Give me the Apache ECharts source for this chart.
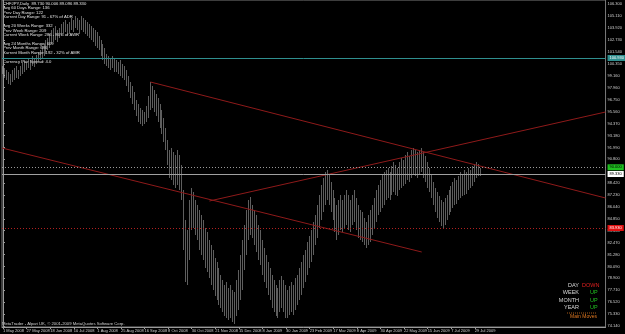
<!DOCTYPE html>
<html><head><meta charset="utf-8">
<script src="https://cdn.jsdelivr.net/npm/echarts@6/dist/echarts.min.js"></script>
<style>html,body{margin:0;padding:0;background:#000;}#c{width:625px;height:334px;}</style>
</head><body><div id="c"></div>
<script>
// x-axis date labels (one every 12 bars)
const dateLabels = ["1 May 2008","27 May 2008","18 Jun 2008","10 Jul 2008","1 Aug 2008","25 Aug 2008","16 Sep 2008","8 Oct 2008","30 Oct 2008","21 Nov 2008","15 Dec 2008","8 Jan 2009","30 Jan 2009","23 Feb 2009","17 Mar 2009","8 Apr 2009","30 Apr 2009","22 May 2009","15 Jun 2009","7 Jul 2009","29 Jul 2009"];
const barsPerLabel = 12;
const slotCount = 307;

// daily highs / lows (CHFJPY)
const highs = [100.13,99.93,99.73,99.53,99.33,99.73,99.93,100.13,99.73,100.13,
100.53,100.73,100.53,100.93,100.73,101.13,100.93,101.23,101.53,101.73,
102.13,102.33,102.73,102.93,103.33,103.73,103.93,104.13,103.73,103.93,
104.33,104.53,104.73,104.33,104.53,104.93,104.73,105.13,104.93,104.73,
105.13,104.93,104.73,104.53,104.33,104.13,103.93,103.73,103.53,103.13,
102.73,102.33,101.93,101.33,101.13,100.93,101.13,100.93,100.73,100.53,
100.73,100.33,100.13,99.73,99.13,98.53,98.13,97.53,96.73,96.33,
95.93,95.73,95.53,96.13,97.13,98.53,98.13,97.73,97.33,96.93,
96.33,95.73,94.93,93.93,92.73,91.73,91.93,91.53,91.23,91.73,
91.23,90.23,87.73,84.73,83.73,86.73,87.93,87.53,86.73,86.23,
85.73,85.23,84.73,83.93,83.53,82.73,82.23,81.73,80.93,80.53,
79.93,79.23,78.73,78.23,78.53,77.93,78.23,77.73,77.53,78.73,
79.73,81.23,82.73,84.23,85.73,86.73,87.03,86.23,85.73,85.23,
84.23,83.73,82.73,81.93,81.23,80.53,79.93,79.23,78.73,78.23,
77.93,78.73,79.13,78.73,78.23,77.73,78.13,78.53,78.23,78.93,
79.23,79.93,80.53,81.23,81.73,82.53,83.13,83.73,84.53,85.23,
86.23,87.23,88.23,88.93,89.53,89.73,89.23,88.53,87.73,86.93,
86.23,86.73,87.23,86.73,87.23,87.73,87.23,86.73,87.23,87.73,
86.93,86.23,85.73,85.53,84.93,84.53,85.23,85.73,86.23,86.93,
87.73,88.23,88.73,89.23,89.53,89.73,89.93,89.53,90.13,90.53,
90.23,89.93,90.53,90.93,90.73,91.23,91.53,91.13,91.73,91.93,
91.73,91.53,91.73,91.93,91.53,91.13,90.53,89.93,89.23,88.53,
87.93,87.53,87.13,86.73,86.53,86.93,87.23,87.73,88.13,88.53,
88.93,88.73,89.13,89.53,89.33,89.73,89.53,89.93,89.73,90.13,
90.33,90.53,90.33,89.93];
const lows = [99.33,98.93,98.73,98.33,98.23,98.53,98.73,98.93,98.83,99.13,
99.33,99.53,99.73,99.93,99.73,100.13,100.03,100.33,100.53,100.73,
100.93,101.13,101.33,101.73,101.93,102.33,102.53,102.73,102.53,102.93,
103.13,103.33,103.53,103.13,103.33,103.73,103.53,103.93,103.73,103.33,
103.73,103.53,103.33,103.13,102.93,102.73,102.53,102.13,101.93,101.73,
101.13,100.73,100.33,100.13,99.93,99.73,99.93,99.53,99.53,99.33,
99.13,98.93,98.73,98.13,97.53,96.93,96.33,95.73,95.13,94.53,
94.33,94.13,94.33,94.53,94.93,95.73,95.93,95.53,95.13,94.53,
93.93,93.33,92.53,91.73,90.23,88.93,88.73,88.23,87.93,88.23,
87.73,86.73,81.73,78.53,78.23,80.73,83.73,83.93,83.23,82.73,
81.73,81.23,80.73,79.93,79.53,78.93,78.23,77.73,77.13,76.73,
76.23,75.93,75.53,75.13,74.93,74.73,74.93,74.53,74.33,75.13,
75.73,76.73,77.73,79.73,81.23,82.73,83.23,82.93,82.23,81.53,
80.73,80.23,79.23,78.53,77.93,77.23,76.73,75.93,75.53,75.13,
74.93,75.53,75.93,75.53,74.93,74.93,75.23,75.53,75.23,75.73,
76.23,76.73,77.23,77.93,78.53,79.23,79.93,80.53,81.23,82.23,
82.93,83.93,84.73,85.53,86.23,86.73,86.23,85.53,84.73,83.53,
82.73,83.23,83.73,83.53,83.93,84.23,83.73,83.53,84.23,84.53,
83.73,82.93,82.73,82.53,82.23,81.93,82.23,82.53,83.23,83.93,
84.53,85.23,85.53,85.93,86.23,86.73,86.93,86.73,87.23,87.53,
87.23,87.13,87.73,87.93,88.13,88.33,88.73,88.53,88.93,89.23,
89.13,88.93,89.23,89.53,88.93,88.53,87.93,87.53,86.93,86.23,
85.53,84.93,84.53,84.13,83.93,84.23,84.73,85.23,85.53,85.93,
86.23,86.33,86.73,86.93,87.13,87.23,87.33,87.73,87.93,88.13,
88.53,88.93,89.13,89.13];

// right price scale labels
const priceTicks = [106.300,105.110,103.920,102.730,101.540,100.350,99.160,97.960,96.750,95.560,94.370,93.180,91.990,90.800,88.420,87.230,86.040,84.850,83.660,82.470,81.280,80.090,78.900,77.710,76.520,75.330,74.140];
const priceMin = 74.03, priceMax = 106.73;

// horizontal levels
const levelCyan = 100.93;
const levelRound = 90.00;
const levelBid = 89.33;
const levelRed = 83.93;

// trend lines [barIndex, price]
const trendDown1 = [[75, 98.53], [306.5, 86.93]];
const trendUp = [[105, 86.63], [306.5, 95.53]];
const trendDown2 = [[-0.5, 91.93], [213, 81.53]];

const infoLines = ["CHFJPY,Daily  89.730 90.006 89.096 89.330","Avg 60 Days Range: 136","Prev Day Range: 122","Current Day Range: 91 - 67% of ADR","","Avg 20 Weeks Range: 332","Prev Week Range: 209","Current Week Range: 286 - 86% of AWR","","Avg 24 Months Range: 609","Prev Month Range: 686","Current Month Range: 192 - 32% of AMR","","Currency Pair Spread: 4.0"];
const moveRows = [["DAY","DOWN"],["WEEK","UP"],["MONTH","UP"],["YEAR","UP"]];

const cats = [];
for (let i = 0; i < slotCount; i++) cats.push(String(i));
const ohlc = highs.map((h, i) => [lows[i], h, lows[i], h]);

const chart = echarts.init(document.getElementById('c'), null, {renderer: 'canvas'});
const FF = 'Liberation Sans, Arial, sans-serif';

function lvl(v, color, type, bg, fg) {
  return {
    yAxis: v,
    lineStyle: {color: color, type: type, width: 1},
    label: {show: true, position: 'end', distance: 2, formatter: v.toFixed(3), backgroundColor: bg, color: fg, fontSize: 4, fontFamily: FF, padding: [1, 2]}
  };
}

const graphics = [];
let yy = 4;
infoLines.forEach((t) => {
  if (t) graphics.push({type: 'text', left: 3, top: yy - 2.5, style: {text: t, fill: '#e0e0e0', fontSize: 4.2, fontFamily: FF}});
  yy += t ? 4.6 : 4;
});
graphics.push({type: 'text', left: 2, top: 322, style: {text: 'MetaTrader - Alpari UK, \u00a9 2001-2009 MetaQuotes Software Corp.', fill: '#d0d0d0', fontSize: 4.2, fontFamily: FF}});
const rowY = [285, 292.5, 300, 307.5];
moveRows.forEach((r, i) => {
  graphics.push({type: 'text', right: 625 - 579, top: rowY[i] - 3, style: {text: r[0], fill: '#d8d8d8', fontSize: 5.5, fontFamily: FF, align: 'right'}});
  graphics.push({type: 'text', left: r[1] === 'DOWN' ? 582 : 590, top: rowY[i] - 3, style: {text: r[1], fill: r[1] === 'DOWN' ? '#e02020' : '#20c020', fontSize: 5.5, fontFamily: FF}});
});
graphics.push({type: 'line', shape: {x1: 567, y1: 313, x2: 597, y2: 313}, style: {stroke: '#d07020', lineWidth: 0.8, lineDash: [1, 1]}});
graphics.push({type: 'text', left: 570, top: 314.5, style: {text: 'Main Moves', fill: '#e07820', fontSize: 5, fontFamily: FF}});

chart.setOption({
  backgroundColor: '#000',
  animation: false,
  grid: {left: 0, right: 14, top: 0, bottom: 7, show: true, borderColor: '#7a7a7a', borderWidth: 1, backgroundColor: 'transparent'},
  xAxis: [{
    type: 'category', data: cats, boundaryGap: true,
    axisLine: {show: true, lineStyle: {color: '#9a9a9a'}},
    axisTick: {show: true, alignWithLabel: true, length: 2, interval: (i) => i % barsPerLabel === 0 && i / barsPerLabel < dateLabels.length, lineStyle: {color: '#9a9a9a'}},
    axisLabel: {show: true, interval: (i) => i % barsPerLabel === 0 && i / barsPerLabel < dateLabels.length, formatter: (v, i) => dateLabels[i / barsPerLabel] || '', align: 'left', fontSize: 4, fontFamily: FF, color: '#cfcfcf', margin: 2},
    splitLine: {show: false}
  }, {
    type: 'value', min: -0.5, max: slotCount - 0.5, show: false
  }],
  yAxis: {
    type: 'value', position: 'right', min: priceMin, max: priceMax, scale: true,
    axisLine: {show: true, lineStyle: {color: '#9a9a9a'}},
    axisTick: {show: true, length: 2, customValues: priceTicks, lineStyle: {color: '#9a9a9a'}},
    axisLabel: {show: true, customValues: priceTicks, formatter: (v) => v.toFixed(3), fontSize: 4, fontFamily: FF, color: '#cfcfcf', margin: 2},
    splitLine: {show: false}
  },
  graphic: graphics,
  series: [{
    type: 'candlestick',
    data: ohlc,
    barWidth: 0.6,
    itemStyle: {color: '#bdbdbd', color0: '#bdbdbd', borderColor: '#bdbdbd', borderColor0: '#bdbdbd', borderWidth: 0.5},
    markLine: {
      symbol: ['none', 'none'], silent: true, animation: false,
      data: [
        lvl(levelCyan, '#2f8f8f', 'solid', '#2f8f8f', '#ffffff'),
        lvl(levelRound, '#9a9a9a', [1, 2], '#20c020', '#000000'),
        lvl(levelBid, '#a0a0a0', 'solid', '#ffffff', '#000000'),
        lvl(levelRed, '#b02020', [1, 2], '#e01010', '#ffffff')
      ]
    }
  }, {
    type: 'line', xAxisIndex: 1, data: trendDown1, symbol: 'none', lineStyle: {color: '#8e1a1a', width: 1}
  }, {
    type: 'line', xAxisIndex: 1, data: trendUp, symbol: 'none', lineStyle: {color: '#8e1a1a', width: 1}
  }, {
    type: 'line', xAxisIndex: 1, data: trendDown2, symbol: 'none', lineStyle: {color: '#8e1a1a', width: 1}
  }]
});
</script></body></html>
